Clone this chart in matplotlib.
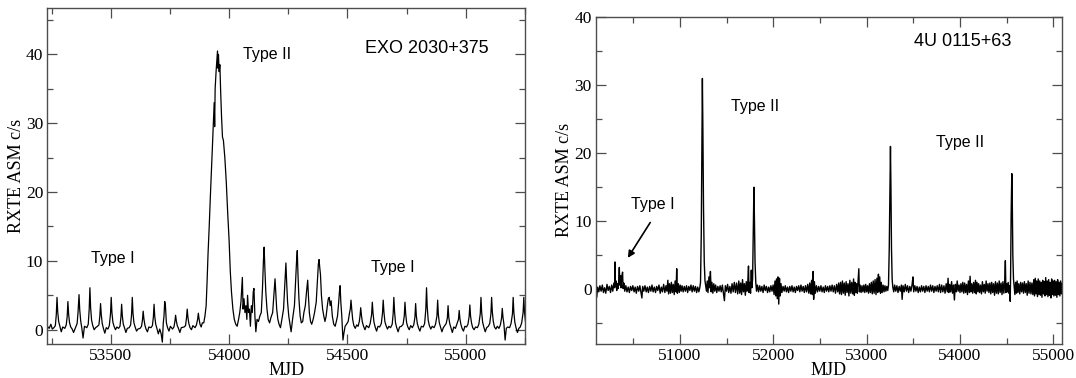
import numpy as np
import matplotlib
matplotlib.use("Agg")
import matplotlib.pyplot as plt
from matplotlib.ticker import MultipleLocator

# EXO 2030+375 light curve (MJD, ASM c/s)
exo_points = [
    (53232, 0.5), (53240, 0.2), (53247, 0.8), (53253, 0.1),
    (53260, 0.3), (53266, 0.6), (53270, 2.2), (53273, 4.7), (53276, 2.6), (53280, 1.2), (53285, 0.5), (53291, -0.3), (53297, 0.4),
    (53306, 0.2), (53312, 0.7), (53316, 1.9), (53319, 4.1), (53322, 2.3), (53326, 1.0), (53331, 0.4), (53337, 0.1), (53343, -0.4),
    (53352, 0.4), (53358, 0.9), (53362, 2.6), (53366, 5.1), (53369, 2.9), (53373, 1.3), (53378, 0.2), (53383, -1.2), (53389, 0.5),
    (53399, 0.3), (53405, 0.8), (53409, 3.0), (53412, 6.1), (53415, 3.2), (53419, 1.4), (53424, 0.6), (53430, 0.0), (53436, 0.3),
    (53444, 0.5), (53450, 0.7), (53454, 2.0), (53457, 3.8), (53460, 2.2), (53464, 0.9), (53469, 0.2), (53475, -0.5), (53481, 0.3),
    (53488, 0.1), (53494, 0.6), (53499, 2.3), (53502, 4.7), (53505, 2.5), (53509, 1.1), (53514, 0.5), (53520, 0.0), (53526, 0.4),
    (53533, 0.2), (53539, 0.5), (53543, 1.8), (53546, 3.7), (53549, 2.0), (53553, 0.8), (53558, 0.3), (53564, -0.4), (53570, 0.2),
    (53578, 0.3), (53584, 0.7), (53588, 2.2), (53591, 4.7), (53594, 2.4), (53598, 1.0), (53603, 0.4), (53609, -0.2), (53615, 0.1),
    (53624, 0.2), (53630, 0.5), (53634, 1.4), (53637, 2.7), (53640, 1.6), (53644, 0.7), (53649, 0.1), (53655, -0.3), (53661, 0.4),
    (53670, 0.3), (53676, 0.6), (53680, 1.8), (53683, 3.7), (53686, 1.9), (53690, 0.8), (53695, 0.2), (53701, -0.6), (53707, 0.1),
    (53713, -0.6), (53718, -1.8), (53722, 1.0), (53725, 2.0), (53728, 4.1), (53731, 3.5), (53735, 1.0), (53740, 0.3), (53746, -0.2), (53752, 0.5),
    (53761, 0.1), (53767, 0.4), (53771, 1.2), (53774, 2.1), (53777, 1.3), (53781, 0.6), (53786, 0.2), (53792, -0.4), (53798, 0.3),
    (53810, 0.4), (53816, 0.6), (53820, 1.7), (53823, 3.0), (53826, 1.8), (53830, 0.9), (53835, 0.3), (53841, 0.0), (53847, 0.6),
    (53856, 0.3), (53862, 0.7), (53867, 1.5), (53870, 2.4), (53873, 1.6), (53877, 0.8), (53882, 0.4), (53887, 1.0),
    (53893, 1.0), (53898, 2.0), (53903, 3.5), (53907, 7.0), (53911, 11.0), (53916, 15.0), (53921, 19.5), (53926, 23.5),
    (53930, 27.0), (53934, 30.5), (53937, 33.0), (53939, 29.5), (53941, 35.0), (53945, 37.5), (53948, 39.0), (53951, 40.5),
    (53953, 38.0), (53955, 40.0), (53958, 37.5), (53961, 38.5), (53964, 35.0), (53968, 31.0), (53972, 28.0), (53976, 27.5),
    (53982, 25.0), (53988, 21.5), (53994, 17.0), (54000, 13.0), (54005, 8.5), (54010, 5.5), (54016, 3.0), (54022, 1.5),
    (54028, 0.8), (54034, 0.5), (54040, 1.5),
    (54045, 2.5), (54050, 4.0), (54056, 7.6), (54059, 3.0), (54063, 4.5), (54067, 2.5), (54071, 3.5), (54075, 1.5), (54078, 5.0),
    (54082, 2.5), (54086, 3.0), (54090, 0.5), (54094, 3.5), (54098, 2.5), (54102, 5.5), (54105, 6.0), (54109, 2.0), (54113, -0.3),
    (54118, 1.5), (54124, 1.2), (54130, 2.0),
    (54136, 2.5), (54141, 6.0), (54145, 10.0), (54148, 12.0), (54151, 9.0), (54155, 5.5), (54160, 3.0), (54165, 1.5), (54171, 1.0), (54177, 1.8),
    (54184, 2.5), (54189, 5.0), (54194, 7.4), (54197, 5.5), (54201, 3.0), (54206, 1.5), (54211, 0.8), (54217, 0.3), (54223, 1.5),
    (54230, 3.0), (54235, 6.5), (54240, 9.7), (54243, 7.0), (54247, 4.0), (54252, 2.0), (54257, 0.8), (54262, -0.3), (54268, 1.5),
    (54276, 3.5), (54281, 7.0), (54285, 10.0), (54288, 11.5), (54291, 8.0), (54295, 4.5), (54300, 2.0), (54305, 1.0), (54311, 1.2), (54316, 2.5),
    (54322, 3.5), (54327, 5.5), (54332, 7.2), (54335, 5.0), (54339, 2.5), (54344, 1.2), (54349, 0.8), (54355, 1.5), (54361, 2.5),
    (54368, 4.0), (54373, 7.0), (54377, 9.5), (54380, 10.2), (54383, 9.0), (54386, 8.0), (54390, 5.0), (54395, 3.0), (54400, 2.0), (54405, 1.2),
    (54410, 2.0), (54415, 3.5), (54419, 4.5), (54423, 4.7), (54427, 3.5), (54431, 4.2), (54436, 2.0), (54442, 0.8), (54448, 0.5), (54453, 1.2),
    (54458, 2.0), (54463, 4.0), (54466, 5.5), (54469, 6.4), (54472, 4.0), (54476, 2.0), (54481, -1.5), (54485, -0.5), (54490, 0.5), (54496, 0.8),
    (54503, 1.2), (54509, 2.5), (54512, 3.0), (54515, 4.3), (54518, 3.0), (54522, 1.5), (54527, 0.6), (54533, 0.2), (54539, 0.7),
    (54545, 0.5), (54550, 1.2), (54553, 2.0), (54556, 3.2), (54559, 2.1), (54563, 1.1), (54568, 0.5), (54574, 0.0), (54580, 0.6),
    (54590, 0.3), (54596, 0.9), (54602, 2.2), (54605, 4.0), (54608, 2.4), (54612, 1.1), (54617, 0.4), (54623, -0.2), (54629, 0.5),
    (54636, 0.4), (54643, 0.9), (54648, 2.4), (54651, 4.3), (54654, 2.6), (54658, 1.2), (54663, 0.6), (54669, 0.1), (54675, 0.5),
    (54682, 0.3), (54689, 0.8), (54693, 2.3), (54696, 4.7), (54699, 2.6), (54703, 1.0), (54708, 0.3), (54714, -0.3), (54720, 0.4),
    (54728, 0.5), (54735, 0.8), (54740, 2.0), (54743, 4.0), (54746, 2.3), (54750, 1.0), (54755, 0.4), (54761, 0.0), (54767, 0.6),
    (54774, 0.3), (54780, 0.7), (54785, 1.8), (54788, 3.8), (54791, 2.0), (54795, 0.9), (54800, 0.3), (54806, -0.2), (54812, 0.5),
    (54820, 0.4), (54826, 0.9), (54831, 3.0), (54834, 6.1), (54837, 3.3), (54841, 1.4), (54846, 0.6), (54852, 0.1), (54858, 0.5),
    (54866, 0.3), (54872, 0.8), (54878, 2.0), (54881, 4.3), (54884, 2.2), (54888, 1.0), (54893, 0.4), (54899, -0.3), (54905, 0.3),
    (54911, 0.6), (54917, 0.9), (54922, 1.7), (54925, 3.5), (54928, 1.8), (54932, 0.9), (54937, 0.3), (54943, -0.4), (54949, 0.4),
    (54956, 0.2), (54963, 0.9), (54969, 1.5), (54972, 2.8), (54975, 1.6), (54979, 0.8), (54984, 0.2), (54990, -0.2), (54996, 0.5),
    (55003, 0.4), (55009, 0.8), (55014, 1.9), (55017, 3.6), (55020, 2.0), (55024, 1.0), (55029, 0.3), (55035, 0.0), (55041, 0.4),
    (55049, 0.3), (55055, 0.8), (55061, 2.3), (55064, 4.7), (55067, 2.5), (55071, 1.1), (55076, 0.4), (55082, -0.3), (55088, 0.3),
    (55095, 0.5), (55101, 0.9), (55106, 2.3), (55109, 4.7), (55112, 2.6), (55116, 1.2), (55121, 0.4), (55127, 0.1), (55133, 0.5),
    (55140, 0.2), (55146, 0.7), (55151, 1.7), (55154, 3.1), (55157, 1.8), (55161, 0.8), (55166, -1.5), (55171, 0.2), (55177, 0.4),
    (55185, 0.3), (55191, 0.9), (55197, 2.3), (55200, 4.7), (55203, 2.5), (55207, 1.1), (55212, 0.3), (55218, -0.4), (55224, 0.2),
    (55230, 0.4), (55236, 1.0), (55242, 2.5), (55245, 4.7), (55248, 2.5), (55252, 1.2),
]

# 4U 0115+63 light curve (MJD, ASM c/s)
u0115_points = [
    (50100, 0.8), (50108, -1.2), (50118, 0.3), (50130, -0.4), (50142, 0.5), (50155, -0.3), (50168, 0.6), (50180, -0.5),
    (50192, 0.2), (50205, -0.6), (50218, 0.7), (50230, -0.2), (50243, 0.4), (50256, -0.5), (50268, 0.6), (50280, -0.3),
    (50292, 0.9), (50300, 0.2), (50304, 4.0), (50308, 0.5), (50316, 1.2), (50322, -0.2), (50330, 0.8), (50338, 0.1),
    (50345, 1.5), (50350, 3.2), (50355, 0.6), (50362, 2.0), (50368, 0.2), (50376, 1.8), (50385, 2.5), (50390, 0.1),
    (50398, 0.9), (50408, -0.3), (50420, 0.5), (50432, -0.4), (50445, 0.3), (50458, -0.5), (50470, 0.4), (50483, -0.2),
    (50495, 0.5), (50508, -0.4), (50520, 0.3), (50532, -0.6), (50545, 0.4), (50558, -0.3), (50570, 0.5), (50582, -0.5),
    (50592, -1.3), (50600, 0.4), (50612, -0.3), (50625, 0.5), (50638, -0.4), (50650, 0.3), (50662, -0.5), (50675, 0.4),
    (50688, -0.3), (50700, 0.6), (50712, -0.4), (50725, 0.3), (50738, -0.5), (50750, 0.4), (50762, -0.2), (50775, 0.6),
    (50788, -0.6), (50800, 0.3), (50812, -0.4), (50825, 0.7), (50838, -0.5), (50850, 0.5), (50860, -0.3), (50870, 1.3),
    (50878, -0.7), (50888, 0.8), (50898, -0.6), (50908, 1.0), (50918, -0.5), (50928, 0.7), (50938, -0.8), (50948, 1.2),
    (50958, -0.4), (50965, 3.0), (50972, -0.6), (50982, 0.8), (50992, -0.5), (51002, 0.6), (51012, -0.3), (51022, 0.5),
    (51034, -0.4), (51046, 0.4), (51058, -0.3), (51070, 0.5), (51082, -0.5), (51094, 0.4), (51106, -0.2), (51118, 0.6),
    (51130, -0.4), (51142, 0.5), (51154, -0.3), (51166, 0.4), (51178, -0.5), (51190, 0.3), (51202, -0.4), (51212, 0.2),
    (51220, 1.0), (51228, 8.0), (51236, 22.0), (51240, 31.0), (51245, 24.0), (51252, 12.0), (51260, 4.0), (51268, 1.2), (51276, 0.5),
    (51284, -0.3), (51292, 1.2), (51300, -0.5), (51310, 1.8), (51318, 0.2), (51326, 2.6), (51334, -0.4), (51342, 1.0),
    (51352, -0.6), (51362, 0.8), (51372, -0.3), (51382, 0.6), (51394, -0.5), (51406, 0.4), (51418, -0.3), (51430, 0.5),
    (51442, -0.4), (51454, 0.6), (51466, -0.6), (51476, -1.7), (51486, 0.5), (51498, -0.3), (51510, 0.7), (51522, -0.5),
    (51534, 0.4), (51546, -0.6), (51558, 0.8), (51570, -0.4), (51582, 1.0), (51594, -0.5), (51606, 0.9), (51618, -0.7),
    (51630, 1.2), (51640, -0.6), (51650, 0.9), (51660, -0.8), (51670, 1.4), (51680, -0.4), (51690, 0.8), (51700, -0.9),
    (51710, 1.1), (51718, -0.3), (51726, 0.9), (51734, 3.4), (51740, -0.5), (51748, 1.0), (51756, -0.6), (51764, 2.8), (51770, 0.2),
    (51778, 1.5), (51786, 9.0), (51792, 15.0), (51798, 10.0), (51804, 4.0), (51812, 1.0),
    (51820, -0.3), (51830, 0.6), (51842, -0.4), (51854, 0.5), (51866, -0.3), (51878, 0.4), (51890, -0.5), (51902, 0.6),
    (51914, -0.2), (51926, 0.4), (51938, -0.5), (51950, 0.3), (51962, -0.4), (51974, 0.5), (51986, -0.3), (51998, 0.6),
    (52008, -0.8), (52018, 1.2), (52026, -1.0), (52034, 1.5), (52042, -1.4), (52050, 1.8), (52058, -2.2), (52066, 1.6),
    (52074, -1.0), (52082, 0.8), (52092, -0.5), (52104, 0.4), (52116, -0.3), (52128, 0.5), (52140, -0.4), (52152, 0.3),
    (52164, -0.5), (52176, 0.4), (52188, -0.3), (52200, 0.5), (52212, -0.4), (52224, 0.3), (52236, -0.5), (52248, 0.4),
    (52260, -0.2), (52272, 0.5), (52284, -0.4), (52296, 0.6), (52308, -0.3), (52320, 0.4), (52332, -0.5), (52344, 0.5),
    (52356, -0.4), (52368, 0.7), (52380, -0.6), (52390, 0.9), (52400, -0.7), (52410, 1.3), (52418, -0.8), (52426, 2.6),
    (52432, -1.5), (52440, 1.1), (52450, -0.6), (52462, 0.5), (52474, -0.4), (52486, 0.4), (52498, -0.3), (52510, 0.5),
    (52522, -0.4), (52534, 0.3), (52546, -0.5), (52558, 0.5), (52570, -0.3), (52582, 0.4), (52594, -0.4), (52606, 0.5),
    (52618, -0.3), (52630, 0.6), (52642, -0.4), (52654, 0.5), (52666, -0.6), (52678, 0.7), (52690, -0.4), (52700, 0.9),
    (52710, -0.7), (52720, 1.0), (52730, -0.8), (52740, 1.2), (52750, -0.6), (52760, 0.9), (52770, -0.9), (52780, 1.1),
    (52790, -0.5), (52800, 0.8), (52810, -1.0), (52820, 1.3), (52830, -0.6), (52840, 1.0), (52850, -0.7), (52860, 1.5),
    (52868, -0.9), (52876, 1.0), (52884, -0.5), (52892, 0.8), (52900, -0.6), (52908, 1.1), (52916, 3.0), (52922, -0.4),
    (52930, 0.6), (52940, -0.5), (52950, 0.5), (52960, -0.4), (52970, 0.6), (52980, -0.5), (52990, 0.7), (53000, -0.4),
    (53010, 0.5), (53020, -0.6), (53030, 0.8), (53040, -0.5), (53050, 1.0), (53060, -0.7), (53070, 1.2), (53080, -0.6),
    (53090, 1.4), (53100, -0.8), (53110, 1.6), (53118, -0.5), (53126, 2.2), (53132, -0.3), (53140, 1.8), (53148, -0.6),
    (53156, 1.0), (53166, -0.5), (53176, 0.6), (53186, -0.4), (53196, 0.5), (53206, -0.3), (53216, 0.4), (53226, -0.2),
    (53234, 0.6), (53242, 6.0), (53250, 16.0), (53255, 21.0), (53260, 15.0), (53266, 6.0), (53273, 1.5), (53280, 0.3),
    (53290, -0.4), (53300, 0.6), (53312, -0.3), (53324, 0.5), (53336, -0.5), (53348, 0.4), (53360, -0.3), (53372, 0.6),
    (53380, -1.5), (53390, 0.5), (53402, -0.4), (53414, 0.7), (53426, -0.3), (53438, 0.5), (53450, -0.5), (53462, 0.4),
    (53474, -0.3), (53486, 0.6), (53496, 1.8), (53504, -0.4), (53516, 0.5), (53528, -0.3), (53540, 0.4), (53552, -0.5),
    (53564, 0.3), (53576, -0.4), (53588, 0.5), (53600, -0.3), (53612, 0.4), (53624, -0.5), (53636, 0.5), (53648, -0.3),
    (53660, 0.4), (53672, -0.4), (53684, 0.6), (53696, -0.3), (53708, 0.5), (53720, -0.5), (53732, 0.4), (53744, -0.3),
    (53756, 0.5), (53768, -0.4), (53780, 0.7), (53792, -0.5), (53804, 0.6), (53816, -0.4), (53828, 0.5), (53840, -0.6),
    (53852, 0.8), (53864, -0.4), (53872, 1.6), (53880, -0.5), (53890, 0.7), (53900, -0.4), (53910, 1.1), (53920, -0.6),
    (53930, 0.6), (53940, -1.6), (53950, 0.7), (53960, -0.4), (53970, 1.2), (53980, -0.3), (53990, 0.6), (54000, -0.5),
    (54010, 0.8), (54020, -0.4), (54030, 1.0), (54040, -0.6), (54050, 0.9), (54060, -0.5), (54070, 0.7), (54080, -0.8),
    (54090, 1.2), (54100, -0.5), (54108, 1.9), (54116, -0.4), (54126, 0.8), (54136, -0.6), (54146, 1.0), (54156, -0.5),
    (54166, 1.3), (54174, -0.7), (54182, 1.0), (54192, -0.4), (54200, 0.8), (54210, -0.5), (54220, 0.6), (54230, -0.7),
    (54240, 1.1), (54250, -0.4), (54260, 0.7), (54270, -0.6), (54280, 1.2), (54290, -0.3), (54300, 0.8), (54310, -0.5),
    (54320, 0.9), (54330, -0.7), (54340, 1.0), (54350, -0.5), (54360, 0.8), (54370, -0.9), (54380, 1.1), (54390, -0.6),
    (54400, 0.9), (54410, -0.7), (54420, 1.2), (54430, -0.5), (54440, 0.9), (54450, -0.8), (54460, 1.1), (54470, -0.6),
    (54478, 0.7), (54486, 4.2), (54492, -0.5), (54500, 0.8), (54508, -0.4), (54516, 1.0), (54524, -0.6), (54532, 0.5), (54538, -1.8),
    (54542, 2.0), (54548, 11.0), (54555, 17.0), (54560, 13.0), (54566, 5.0), (54573, 1.5),
    (54580, 0.4), (54588, -0.8), (54596, 1.0), (54604, -0.6), (54612, 1.2), (54620, -0.5), (54630, 0.8), (54640, -0.7),
    (54650, 1.0), (54660, -0.4), (54670, 0.9), (54680, -0.6), (54690, 1.1), (54700, -0.5), (54710, 0.8), (54720, -0.9),
    (54730, 1.2), (54740, -0.6), (54750, 1.0), (54760, -0.7), (54770, 0.9), (54780, -0.8), (54790, 1.4), (54798, -1.0),
    (54806, 1.6), (54814, -0.7), (54822, 1.2), (54830, -1.1), (54838, 1.5), (54846, -0.8), (54854, 1.2), (54862, -0.9),
    (54870, 1.0), (54878, -1.2), (54886, 1.3), (54894, -0.7), (54902, 1.1), (54910, -1.0), (54918, 1.7), (54926, -0.8),
    (54934, 1.2), (54942, -1.1), (54950, 1.4), (54958, -0.9), (54966, 1.0), (54974, -1.3), (54982, 1.5), (54990, -0.8),
    (54998, 1.2), (55006, -1.0), (55014, 1.3), (55022, -0.9), (55030, 1.1), (55038, -1.2), (55046, 1.4), (55054, -0.8),
    (55062, 1.0), (55070, -1.0), (55078, 1.2), (55086, -0.7), (55094, 0.9), (55100, -0.4),
]

exo_mjd, exo_rate = np.array(exo_points).T
u_mjd, u_rate = np.array(u0115_points).T

serif = "Liberation Serif"
sans = "Liberation Sans"

fig = plt.figure(figsize=(10.76, 3.78), dpi=100)
W, H = 1076, 378
ax1 = fig.add_axes([47.3 / W, 1 - 343.5 / H, (525 - 47.3) / W, (343.5 - 8.3) / H])
ax2 = fig.add_axes([595.7 / W, 1 - 343.5 / H, (1062.3 - 595.7) / W, (343.5 - 17.3) / H])


def style(ax, xmaj, xmin):
    ax.xaxis.set_major_locator(MultipleLocator(xmaj))
    ax.xaxis.set_minor_locator(MultipleLocator(xmin))
    ax.yaxis.set_major_locator(MultipleLocator(10))
    ax.yaxis.set_minor_locator(MultipleLocator(5))
    ax.tick_params(which="both", direction="in", top=True, right=True,
                   color="0.3", width=0.9, labelsize=12.5, pad=3)
    ax.tick_params(which="major", length=7)
    ax.tick_params(which="minor", length=4)
    for lab in ax.get_xticklabels() + ax.get_yticklabels():
        lab.set_fontfamily(serif)
    for sp in ax.spines.values():
        sp.set_color("0.3")
        sp.set_linewidth(1.0)
    ax.set_xlabel("MJD", fontfamily=serif, fontsize=13)
    ax.set_ylabel("RXTE ASM c/s", fontfamily=serif, fontsize=13)


# left: EXO 2030+375
ax1.plot(exo_mjd, exo_rate, color="black", lw=0.9)
ax1.set_xlim(53232, 55250)
ax1.set_ylim(-2, 46.7)
style(ax1, 500, 250)
ax1.yaxis.set_label_coords(-0.047, 0.5)
ax1.xaxis.set_label_coords(0.5, -0.055)
ax1.text(54058, 40.0, "Type II", fontfamily=sans, fontsize=11.5, ha="left", va="center")
ax1.text(54574, 40.8, "EXO 2030+375", fontfamily=sans, fontsize=13, ha="left", va="center")
ax1.text(53417, 10.4, "Type I", fontfamily=sans, fontsize=11.5, ha="left", va="center")
ax1.text(54599, 9.1, "Type I", fontfamily=sans, fontsize=11.5, ha="left", va="center")

# right: 4U 0115+63
ax2.plot(u_mjd, u_rate, color="black", lw=1.0)
ax2.set_xlim(50097, 55096)
ax2.set_ylim(-8, 40)
style(ax2, 1000, 500)
ax2.yaxis.set_label_coords(-0.049, 0.5)
ax2.xaxis.set_label_coords(0.5, -0.057)
ax2.text(53502, 36.4, "4U 0115+63", fontfamily=sans, fontsize=13, ha="left", va="center")
ax2.text(51547, 26.9, "Type II", fontfamily=sans, fontsize=11.5, ha="left", va="center")
ax2.text(53742, 21.6, "Type II", fontfamily=sans, fontsize=11.5, ha="left", va="center")
ax2.text(50477, 12.5, "Type I", fontfamily=sans, fontsize=11.5, ha="left", va="center")
ax2.annotate("", xy=(50441, 4.6), xytext=(50681, 9.8),
             arrowprops=dict(arrowstyle="-|>", color="black", lw=1.2, mutation_scale=10,
                             shrinkA=0, shrinkB=0))

fig.savefig("out.png", dpi=100)
